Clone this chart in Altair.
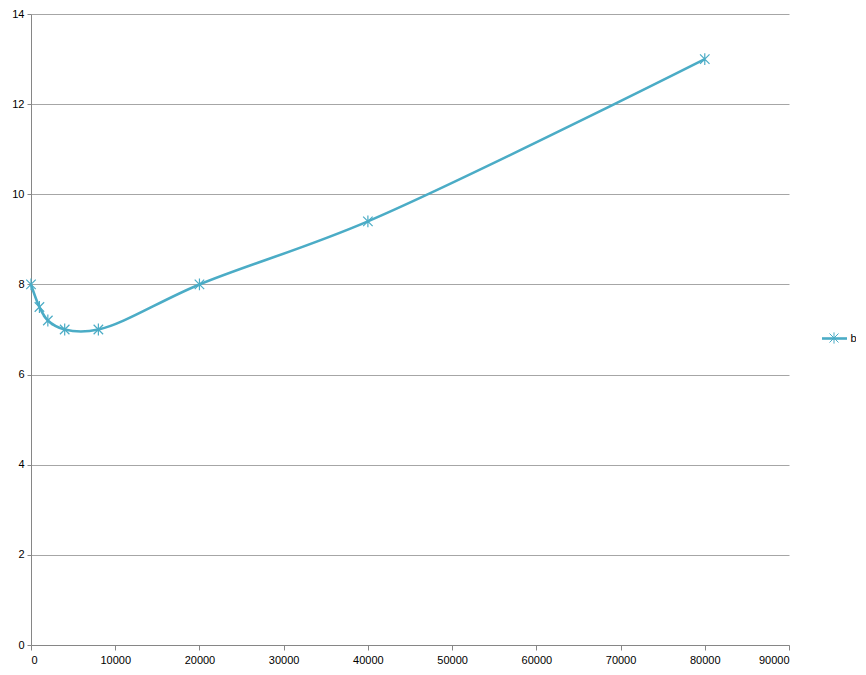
import altair as alt
import pandas as pd

x_vals = [0, 1000, 2000, 4000, 8000, 20000, 40000, 80000]
y_vals = [8.0, 7.5, 7.2, 7.0, 7.0, 8.0, 9.4, 13.0]
series = ["b"] * len(x_vals)

df = pd.DataFrame({"x": x_vals, "y": y_vals, "series": series, "marker": series})

COLOR = "#4bacc6"
FONT = "Liberation Sans"
ASTERISK = "M-1,-1L1,1M-1,1L1,-1M0,-1.25L0,1.25"

xs = alt.Scale(domain=[0, 90000], nice=False, zero=True)
ys = alt.Scale(domain=[0, 14], nice=False)

line_legend = alt.Legend(
    title=None,
    orient="none",
    legendX=789.5,
    legendY=310.5,
    symbolType="stroke",
    symbolSize=625,
    symbolStrokeWidth=2.6,
    symbolStrokeColor=COLOR,
    labelFont=FONT,
    labelFontSize=11,
    labelColor="#000000",
    labelOffset=2,
)

marker_legend = alt.Legend(
    title=None,
    orient="none",
    legendX=797.5,
    legendY=318.5,
    symbolSize=81,
    symbolStrokeWidth=1,
    symbolStrokeColor=COLOR,
    symbolFillColor="transparent",
    labelFont=FONT,
    labelFontSize=11,
    labelColor="transparent",
    labelOffset=2,
)

x_axis = alt.Axis(
    title=None,
    values=list(range(0, 90001, 10000)),
    format="d",
    grid=False,
    tickSize=5,
    labelPadding=4,
)
y_axis = alt.Axis(
    title=None,
    values=list(range(0, 15, 2)),
    grid=True,
    tickSize=4,
    labelPadding=3,
)

line = alt.Chart(df).mark_line(
    interpolate="catmull-rom", strokeWidth=2.6
).encode(
    x=alt.X("x:Q", scale=xs, axis=x_axis),
    y=alt.Y("y:Q", scale=ys, axis=y_axis),
    color=alt.Color("series:N", scale=alt.Scale(range=[COLOR]), legend=line_legend),
)

points = alt.Chart(df).mark_point(
    size=90,
    filled=False,
    strokeWidth=1.2,
    opacity=1,
    color=COLOR,
).encode(
    x=alt.X("x:Q", scale=xs),
    y=alt.Y("y:Q", scale=ys),
    shape=alt.Shape("marker:N", scale=alt.Scale(range=[ASTERISK]), legend=marker_legend),
)

chart = alt.layer(line, points).properties(
    width=758,
    height=631,
    autosize=alt.AutoSizeParams(type="none"),
    padding={"left": 23, "top": 6, "right": 67, "bottom": 20},
).configure_view(
    stroke=None
).configure_axis(
    domainColor="#868686",
    tickColor="#868686",
    gridColor="#a6a6a6",
    gridWidth=1,
    labelFont=FONT,
    labelFontSize=11,
    labelColor="#000000",
)

chart.save("out.html", embed_options={"renderer": "svg", "actions": False})
